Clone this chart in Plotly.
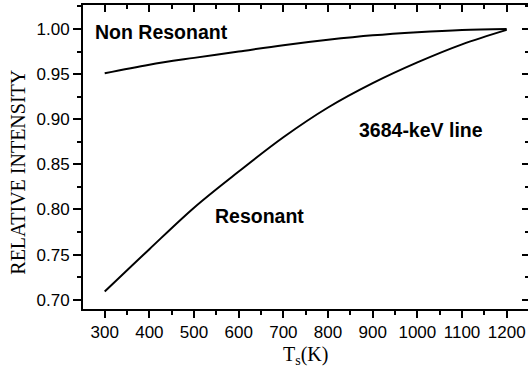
import plotly.graph_objects as go

temps = [300, 400, 500, 600, 700, 800, 900, 1000, 1100, 1200]
non_resonant = [0.951, 0.9605, 0.968, 0.975, 0.982, 0.988, 0.993, 0.9965, 0.999, 1.000]
resonant = [0.709, 0.756, 0.802, 0.842, 0.880, 0.913, 0.940, 0.963, 0.983, 0.999]

x_ticks = [300, 400, 500, 600, 700, 800, 900, 1000, 1100, 1200]
y_ticks = [0.70, 0.75, 0.80, 0.85, 0.90, 0.95, 1.00]
y_tick_text = ["0.70", "0.75", "0.80", "0.85", "0.90", "0.95", "1.00"]

xr = [251.4, 1247.7]
yr = [0.6897, 1.0266]

fig = go.Figure()
fig.add_trace(go.Scatter(x=temps, y=non_resonant, mode="lines", line=dict(color="black", width=2, shape="spline"), showlegend=False))
fig.add_trace(go.Scatter(x=temps, y=resonant, mode="lines", line=dict(color="black", width=2, shape="spline"), showlegend=False))
# invisible trace to activate mirrored axes
fig.add_trace(go.Scatter(x=temps, y=resonant, xaxis="x2", yaxis="y2", mode="lines", line=dict(color="rgba(0,0,0,0)", width=0), showlegend=False, hoverinfo="skip"))

tickfont = dict(family="Liberation Sans, Arial, sans-serif", size=17, color="black")

fig.update_layout(
    width=528, height=372,
    margin=dict(l=83, r=0, t=5, b=63),
    plot_bgcolor="white", paper_bgcolor="white",
    xaxis=dict(range=xr, tickvals=x_ticks, ticks="outside", ticklen=7, tickwidth=1.5, tickcolor="black",
               showline=True, linecolor="black", linewidth=2, showgrid=False, zeroline=False,
               tickfont=tickfont,
               minor=dict(dtick=50, tick0=250, ticks="outside", ticklen=4, tickwidth=1.5, tickcolor="black")),
    yaxis=dict(range=yr, tickvals=y_ticks, ticktext=y_tick_text, ticks="outside", ticklen=8, tickwidth=1.5, tickcolor="black",
               showline=True, linecolor="black", linewidth=2, showgrid=False, zeroline=False,
               tickfont=tickfont,
               minor=dict(dtick=0.025, tick0=0.7, ticks="outside", ticklen=4, tickwidth=1.5, tickcolor="black")),
    xaxis2=dict(range=xr, overlaying="x", side="top", tickvals=x_ticks, ticks="inside", ticklen=7, tickwidth=1.5, tickcolor="black",
                showticklabels=False, showline=True, linecolor="black", linewidth=2, showgrid=False, zeroline=False,
                minor=dict(dtick=50, tick0=250, ticks="inside", ticklen=4, tickwidth=1.5, tickcolor="black")),
    yaxis2=dict(range=yr, overlaying="y", side="right", tickvals=y_ticks, ticks="inside", ticklen=6, tickwidth=1.5, tickcolor="black",
                showticklabels=False, showline=False, showgrid=False, zeroline=False,
                minor=dict(dtick=0.025, tick0=0.7, ticks="inside", ticklen=3, tickwidth=1.5, tickcolor="black")),
    annotations=[
        dict(x=273, y=0.9967, xref="x", yref="y", text="<b>Non Resonant</b>", showarrow=False, xanchor="left", yanchor="middle",
             font=dict(family="Liberation Sans, Arial, sans-serif", size=19.5, color="black")),
        dict(x=864, y=0.8882, xref="x", yref="y", text="<b>3684-keV line</b>", showarrow=False, xanchor="left", yanchor="middle",
             font=dict(family="Liberation Sans, Arial, sans-serif", size=19.5, color="black")),
        dict(x=542.7, y=0.793, xref="x", yref="y", text="<b>Resonant</b>", showarrow=False, xanchor="left", yanchor="middle",
             font=dict(family="Liberation Sans, Arial, sans-serif", size=19.5, color="black")),
        dict(x=(18 - 83.3) / 445, y=1 - (172 - 5) / 304, xref="paper", yref="paper", text="RELATIVE INTENSITY", textangle=-90,
             showarrow=False, xanchor="center", yanchor="middle",
             font=dict(family="Liberation Serif, Times New Roman, serif", size=20, color="black")),
        dict(x=(306 - 83.3) / 445, y=-(356 - 309.3) / 304, xref="paper", yref="paper", text="T<sub>s</sub>(K)",
             showarrow=False, xanchor="center", yanchor="middle",
             font=dict(family="Liberation Serif, Times New Roman, serif", size=20, color="black")),
    ],
)

fig.write_html("out.html")
